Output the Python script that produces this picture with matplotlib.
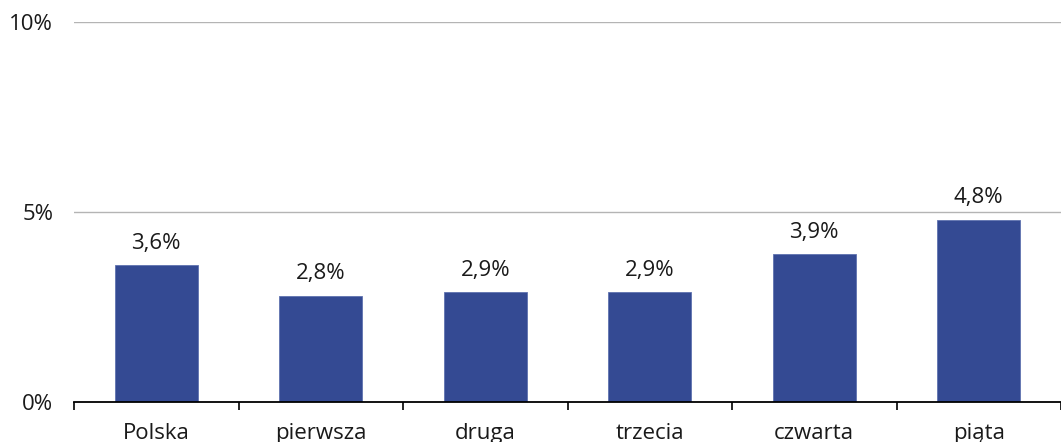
import matplotlib
matplotlib.use("Agg")
import matplotlib.pyplot as plt
from matplotlib.ticker import FixedLocator, NullFormatter

categories = ["Polska", "pierwsza", "druga", "trzecia", "czwarta", "piąta"]
values = [3.6, 2.8, 2.9, 2.9, 3.9, 4.8]
value_labels = ["3,6%", "2,8%", "2,9%", "2,9%", "3,9%", "4,8%"]
y_ticks = [0, 5, 10]
y_tick_labels = ["0%", "5%", "10%"]

plt.rcParams['font.family'] = ['Open Sans', 'DejaVu Sans']
FS = 16

fig = plt.figure(figsize=(10.61, 4.42), dpi=100)
ax = fig.add_axes([74/1061, 40/442, 1 - 74/1061, 380/442])

x = list(range(len(categories)))
ax.bar(x, values, width=0.505, color="#344A93", edgecolor="#5f72b0", linewidth=0.6, zorder=3)
for xi, v, lab in zip(x, values, value_labels):
    ax.annotate(lab, (xi, v), xytext=(0, 8), textcoords="offset points",
                ha="center", va="bottom", fontsize=FS, color="#1a1a1a")

ax.set_xlim(-0.5, len(categories) - 0.5)
ax.set_ylim(0, 10)
ax.set_yticks(y_ticks)
ax.set_yticklabels(y_tick_labels, fontsize=FS, color="#1a1a1a")
ax.tick_params(axis="y", length=0, pad=15)
for t in y_ticks[1:]:
    ax.axhline(t, color="#b4b4b4", linewidth=1.0, zorder=1)

ax.xaxis.set_major_locator(FixedLocator([i - 0.5 for i in range(len(categories) + 1)]))
ax.xaxis.set_major_formatter(NullFormatter())
ax.xaxis.set_minor_locator(FixedLocator(x))
ax.set_xticklabels(categories, minor=True, fontsize=FS, color="#1a1a1a")
ax.tick_params(axis="x", which="major", length=6, width=1.2, direction="out", color="black")
ax.tick_params(axis="x", which="minor", length=0, pad=15)

for s in ["top", "right", "left"]:
    ax.spines[s].set_visible(False)
ax.spines["bottom"].set_linewidth(1.3)
ax.spines["bottom"].set_zorder(4)

fig.savefig("out.png", dpi=100)
